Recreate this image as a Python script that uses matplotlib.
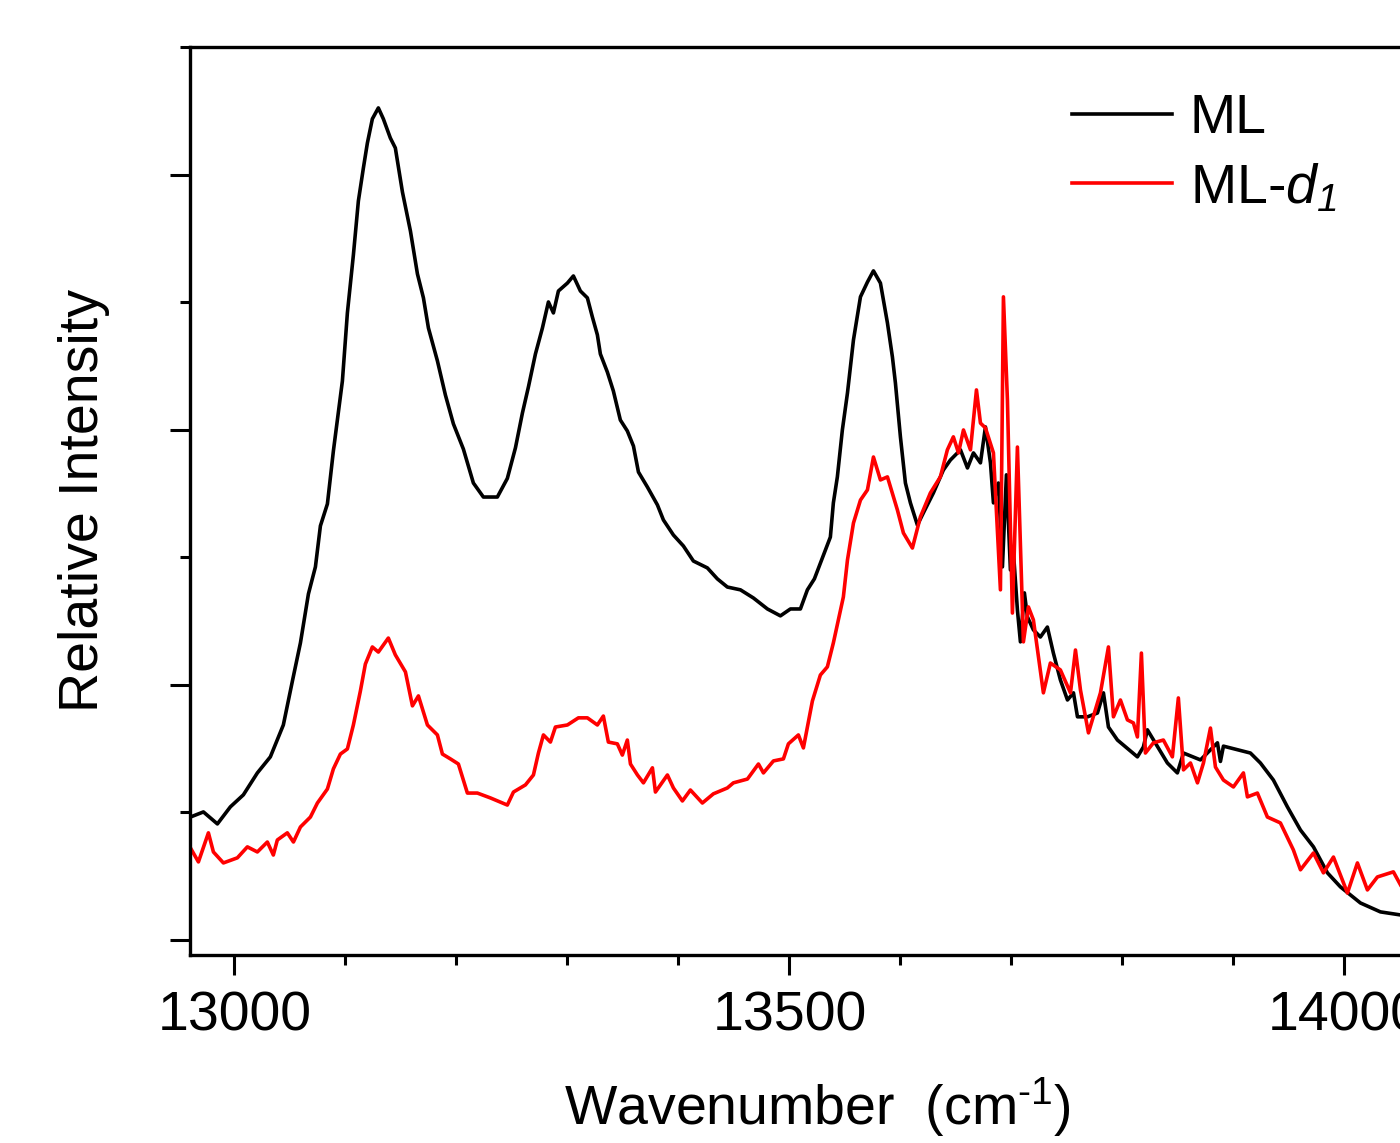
"""
Спектры ML и ML-d1: относительная интенсивность от волнового числа
"""

import numpy as np
import matplotlib.pyplot as plt
from matplotlib.ticker import MultipleLocator

# ML (чёрная кривая): волновое число, см^-1
ml_wn = [12960.4, 12972.1, 12984.7, 12996.4, 13008.1, 13020.7, 13032.4, 13044.1,
         13052.3, 13059.5, 13066.7, 13073.0, 13077.5, 13083.8, 13089.2, 13097.3,
         13101.8, 13107.2, 13111.7, 13116.2, 13119.8, 13124.3, 13129.7, 13134.2,
         13140.5, 13145.0, 13151.4, 13158.6, 13164.9, 13170.3, 13174.8, 13182.9,
         13190.1, 13197.3, 13206.3, 13215.3, 13224.3, 13236.9, 13245.9, 13253.2,
         13259.5, 13264.9, 13271.2, 13277.5, 13282.9, 13287.4, 13291.9, 13300.0,
         13305.4, 13311.7, 13318.0, 13322.5, 13327.0, 13329.7, 13336.0, 13341.4,
         13347.7, 13354.0, 13359.5, 13364.0, 13372.1, 13381.1, 13386.5, 13395.5,
         13404.5, 13413.5, 13426.1, 13435.1, 13444.1, 13455.9, 13467.6, 13480.2,
         13491.9, 13500.9, 13509.9, 13516.2, 13522.5, 13532.4, 13536.9, 13539.6,
         13543.2, 13547.7, 13552.3, 13557.7, 13564.0, 13570.3, 13575.7, 13582.0,
         13588.3, 13592.8, 13595.5, 13600.0, 13604.5, 13609.0, 13615.3, 13620.7,
         13629.7, 13638.7, 13645.0, 13654.1, 13660.4, 13665.8, 13672.1, 13676.6,
         13681.1, 13683.8, 13688.3, 13691.9, 13695.5, 13699.1, 13701.8, 13705.4,
         13708.1, 13711.7, 13714.4, 13719.8, 13726.1, 13732.4, 13737.8, 13744.1,
         13750.5, 13755.9, 13759.5, 13768.5, 13777.5, 13782.9, 13787.4, 13795.5,
         13813.5, 13818.9, 13822.5, 13840.5, 13849.5, 13855.0, 13870.3, 13885.6,
         13888.3, 13891.0, 13915.3, 13924.3, 13936.0, 13948.6, 13960.4, 13972.1,
         13984.7, 13996.4, 14014.4, 14032.4, 14050.5]
# ML: относительная интенсивность
ml_int = [0.482, 0.502, 0.455, 0.522, 0.569, 0.655, 0.718, 0.843,
          1.016, 1.165, 1.357, 1.463, 1.624, 1.710, 1.918, 2.192,
          2.459, 2.686, 2.898, 3.027, 3.125, 3.220, 3.263, 3.220,
          3.145, 3.106, 2.933, 2.780, 2.612, 2.518, 2.400, 2.271,
          2.137, 2.024, 1.925, 1.792, 1.737, 1.737, 1.810, 1.930,
          2.067, 2.169, 2.298, 2.400, 2.502, 2.459, 2.545, 2.576,
          2.604, 2.545, 2.518, 2.443, 2.373, 2.298, 2.227, 2.153,
          2.039, 1.996, 1.937, 1.835, 1.776, 1.706, 1.647, 1.588,
          1.545, 1.486, 1.459, 1.416, 1.384, 1.373, 1.341, 1.298,
          1.271, 1.298, 1.298, 1.373, 1.416, 1.529, 1.580, 1.714,
          1.816, 2.000, 2.145, 2.353, 2.522, 2.580, 2.624, 2.576,
          2.420, 2.286, 2.184, 1.973, 1.792, 1.714, 1.627, 1.675,
          1.753, 1.843, 1.882, 1.922, 1.851, 1.910, 1.871, 2.012,
          1.871, 1.714, 1.792, 1.463, 1.824, 1.451, 1.522, 1.294,
          1.169, 1.361, 1.267, 1.216, 1.188, 1.227, 1.125, 1.020,
          0.941, 0.969, 0.875, 0.875, 0.890, 0.969, 0.835, 0.784,
          0.718, 0.757, 0.824, 0.694, 0.655, 0.733, 0.706, 0.773,
          0.700, 0.760, 0.733, 0.694, 0.627, 0.522, 0.431, 0.365,
          0.263, 0.208, 0.145, 0.110, 0.098]

# ML-d1 (красная кривая)
mld_wn = [12960.4, 12967.6, 12976.6, 12981.1, 12990.1, 13002.7, 13011.7, 13020.7,
          13029.7, 13035.1, 13038.7, 13047.7, 13053.2, 13059.5, 13068.5, 13074.8,
          13083.8, 13089.2, 13095.5, 13101.8, 13107.2, 13113.5, 13118.0, 13124.3,
          13129.7, 13138.7, 13145.0, 13154.1, 13160.4, 13165.8, 13173.9, 13182.9,
          13187.4, 13194.6, 13201.8, 13209.9, 13218.9, 13230.6, 13245.9, 13251.4,
          13262.2, 13269.4, 13273.9, 13278.4, 13284.7, 13289.2, 13300.0, 13309.9,
          13318.0, 13327.0, 13332.4, 13336.9, 13345.0, 13349.5, 13354.0, 13356.8,
          13363.1, 13368.5, 13376.6, 13379.3, 13390.1, 13395.5, 13403.6, 13410.8,
          13421.6, 13431.5, 13444.1, 13449.5, 13462.2, 13472.1, 13476.6, 13485.6,
          13494.6, 13499.1, 13508.1, 13512.6, 13520.7, 13527.9, 13534.2, 13539.6,
          13548.6, 13552.3, 13557.7, 13564.0, 13570.3, 13575.7, 13582.0, 13588.3,
          13597.3, 13602.7, 13610.8, 13618.0, 13627.0, 13636.0, 13642.3, 13647.7,
          13652.3, 13656.8, 13663.1, 13668.5, 13672.1, 13676.6, 13683.8, 13690.1,
          13692.8, 13696.4, 13700.9, 13705.4, 13710.8, 13715.3, 13719.8, 13728.8,
          13735.1, 13744.1, 13753.2, 13757.7, 13762.2, 13769.4, 13780.2, 13787.4,
          13791.9, 13798.2, 13804.5, 13809.9, 13813.5, 13817.1, 13820.7, 13827.9,
          13836.9, 13845.0, 13850.4, 13855.0, 13861.3, 13867.6, 13873.0, 13879.3,
          13883.8, 13891.0, 13900.0, 13909.0, 13912.6, 13921.6, 13930.6, 13942.3,
          13954.0, 13960.4, 13972.1, 13981.1, 13990.1, 14002.7, 14011.7, 14020.7,
          14029.7, 14044.1, 14050.5]
mld_int = [0.361, 0.306, 0.420, 0.345, 0.302, 0.322, 0.365, 0.345,
           0.384, 0.333, 0.392, 0.420, 0.384, 0.443, 0.482, 0.537,
           0.592, 0.671, 0.729, 0.749, 0.843, 0.976, 1.082, 1.149,
           1.129, 1.184, 1.118, 1.051, 0.918, 0.957, 0.843, 0.804,
           0.729, 0.710, 0.690, 0.576, 0.576, 0.557, 0.529, 0.580,
           0.608, 0.647, 0.733, 0.804, 0.776, 0.835, 0.843, 0.871,
           0.871, 0.843, 0.878, 0.776, 0.769, 0.725, 0.784, 0.690,
           0.647, 0.616, 0.675, 0.580, 0.647, 0.596, 0.545, 0.588,
           0.537, 0.573, 0.596, 0.616, 0.631, 0.690, 0.655, 0.702,
           0.710, 0.769, 0.804, 0.753, 0.937, 1.039, 1.071, 1.165,
           1.345, 1.490, 1.635, 1.725, 1.765, 1.894, 1.804, 1.816,
           1.686, 1.596, 1.537, 1.659, 1.753, 1.816, 1.922, 1.973,
           1.910, 2.000, 1.922, 2.157, 2.027, 2.008, 1.910, 1.373,
           2.522, 2.118, 1.282, 1.933, 1.169, 1.306, 1.255, 0.969,
           1.086, 1.059, 0.969, 1.137, 0.980, 0.812, 0.969, 1.149,
           0.875, 0.941, 0.863, 0.851, 0.796, 1.125, 0.733, 0.773,
           0.784, 0.718, 0.949, 0.667, 0.694, 0.616, 0.694, 0.831,
           0.678, 0.627, 0.600, 0.655, 0.561, 0.576, 0.482, 0.459,
           0.353, 0.275, 0.341, 0.263, 0.325, 0.184, 0.302, 0.196,
           0.247, 0.267, 0.216]


def main():
    plt.rcParams['font.family'] = ['Liberation Sans', 'DejaVu Sans']
    plt.rcParams['mathtext.fontset'] = 'custom'
    plt.rcParams['mathtext.rm'] = 'Liberation Sans'
    plt.rcParams['mathtext.it'] = 'Liberation Sans:italic'
    # sf используем как курсив, чтобы и цифра в индексе была наклонной
    plt.rcParams['mathtext.sf'] = 'Liberation Sans:italic'

    fig = plt.figure(figsize=(14, 11.43), dpi=100)
    # правая граница осей выходит за край картинки, как в оригинале
    ax = fig.add_axes([0.1357, 0.1645, 0.9039, 0.7944])

    ax.plot(ml_wn, ml_int, color='black', lw=2.6, label='ML')
    ax.plot(mld_wn, mld_int, color='red', lw=2.6,
            label=r'ML-$\mathsf{d}_{\mathsf{1}}$')

    ax.set_xlim(12960, 14100)
    ax.set_ylim(-0.059, 3.502)

    ax.xaxis.set_major_locator(MultipleLocator(500))
    ax.xaxis.set_minor_locator(MultipleLocator(100))
    ax.yaxis.set_major_locator(MultipleLocator(1))
    ax.yaxis.set_minor_locator(MultipleLocator(0.5))
    ax.tick_params(which='both', direction='out', width=2.2, top=False, right=False)
    ax.tick_params(which='major', length=14.4)
    ax.tick_params(which='minor', length=7.2)
    ax.tick_params(axis='x', labelsize=40, pad=11)
    ax.tick_params(axis='y', labelleft=False)
    for s in ax.spines.values():
        s.set_linewidth(2.4)

    fig.text(0.584, 0.0157, r'Wavenumber  (cm$^{\text{-1}}$)',
             fontsize=40, ha='center', va='baseline')
    fig.text(0.06, 0.5617, 'Relative Intensity', fontsize=40,
             rotation=90, ha='center', va='center')

    leg = ax.legend(loc='upper left', bbox_to_anchor=(1072 / 1400, 1 - 93 / 1143),
                    bbox_transform=fig.transFigure, frameon=False, fontsize=40,
                    handlelength=1.8, handletextpad=0.32, labelspacing=0.31,
                    borderpad=0, borderaxespad=0)
    for line in leg.get_lines():
        line.set_linewidth(2.6)

    fig.savefig('out.png', dpi=100)


if __name__ == "__main__":
    main()
